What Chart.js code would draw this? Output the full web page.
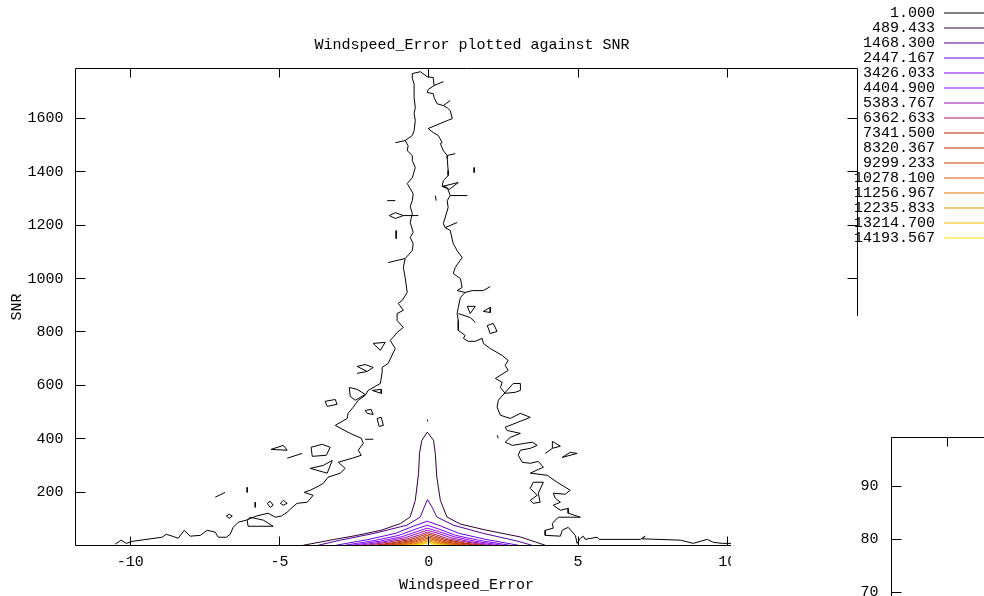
<!DOCTYPE html>
<html>
<head>
<meta charset="utf-8">
<title>Windspeed_Error plotted against SNR</title>
<script src="https://cdn.jsdelivr.net/npm/chart.js@4.4.1/dist/chart.umd.min.js"></script>
<style>
  html, body { margin: 0; padding: 0; background: #ffffff; }
  #page { position: relative; width: 984px; height: 596px; overflow: hidden; }
  #mainChart { position: absolute; left: 0; top: 0; }
  #insetChart { position: absolute; left: 731px; top: 316px; background: #ffffff; }
</style>
</head>
<body>
<div id="page">
  <canvas id="mainChart" width="984" height="596"></canvas>
  <canvas id="insetChart" width="253" height="280"></canvas>
</div>
<script>
// axes
const xTicks = [-10, -5, 0, 5, 10];
const yTicks = [200, 400, 600, 800, 1000, 1200, 1400, 1600];
const xRange = [-11.83, 14.36];
const yRange = [0, 1787];

// contour levels shown in the key
const levels = [1.000, 489.433, 1468.300, 2447.167, 3426.033, 4404.900, 5383.767, 6362.633,
  7341.500, 8320.367, 9299.233, 10278.100, 11256.967, 12235.833, 13214.700, 14193.567];
const levelColors = ['rgb(0,0,0)', 'rgb(46,0,53)', 'rgb(81,0,150)', 'rgb(104,1,221)', 'rgb(123,3,254)',
  'rgb(140,7,243)', 'rgb(154,13,189)', 'rgb(168,21,104)', 'rgb(180,32,0)', 'rgb(192,46,0)',
  'rgb(203,65,0)', 'rgb(213,87,0)', 'rgb(223,115,0)', 'rgb(233,148,0)', 'rgb(242,186,0)', 'rgb(251,230,0)'];

// level 1.000 : outer edge, left side (bottom -> top)
const level1Left = [[-10.50,5],[-10.30,20],[-10.13,8],[-9.90,16],[-8.93,31],[-8.79,42],[-8.59,35],[-8.39,27],
  [-8.19,57],[-7.99,35],[-7.65,38],[-7.42,57],[-7.15,50],[-7.05,31],[-6.78,31],[-6.65,42],[-6.55,68],[-6.38,87],
  [-6.11,95],[-5.78,110],[-5.38,121],[-5.14,106],[-4.94,110],[-4.74,125],[-4.61,139],[-4.41,158],[-4.07,162],
  [-3.87,188],[-4.17,199],[-3.97,207],[-3.70,222],[-3.53,233],[-3.37,256],[-2.96,271],[-2.80,289],[-3.03,312],
  [-2.56,327],[-2.26,338],[-2.36,357],[-2.19,383],[-2.26,402],[-2.63,420],[-3.13,450],[-2.73,476],[-2.70,495],
  [-2.53,518],[-2.36,544],[-2.13,562],[-2.03,581],[-1.62,607],[-1.56,649],[-1.56,667],[-1.36,682],[-1.12,738],
  [-1.29,768],[-1.19,780],[-1.06,798],[-0.85,817],[-1.06,843],[-1.06,869],[-0.85,881],[-1.02,907],[-0.89,918],
  [-0.72,948],[-0.79,1004],[-0.85,1042],[-0.79,1075],[-0.55,1105],[-0.52,1131],[-0.62,1154],[-0.52,1173],
  [-0.62,1210],[-0.55,1244],[-0.62,1270],[-0.55,1292],[-0.52,1318],[-0.62,1337],[-0.72,1356],[-0.55,1378],
  [-0.45,1416],[-0.55,1442],[-0.55,1461],[-0.72,1479],[-0.69,1498],[-0.79,1517],[-0.55,1536],[-0.49,1554],
  [-0.45,1592],[-0.49,1618],[-0.45,1640],[-0.49,1678],[-0.49,1730],[-0.55,1749],[-0.55,1768],[-0.28,1775],
  [-0.05,1756],[0.15,1753]];

// level 1.000 : outer edge, right side (top -> bottom)
const level1Right = [[0.15,1753],[0.18,1723],[-0.02,1708],[-0.05,1697],[0.15,1693],[0.18,1678],[0.28,1655],
  [0.49,1648],[0.62,1640],[0.72,1629],[0.79,1599],[0.62,1592],[-0.02,1562],[0.15,1547],[0.32,1536],[0.45,1509],
  [0.39,1506],[0.49,1479],[0.62,1461],[0.62,1450],[0.65,1405],[0.65,1386],[0.49,1367],[0.45,1348],[0.62,1341],
  [0.72,1311],[0.62,1292],[0.65,1266],[0.49,1206],[0.55,1191],[0.72,1180],[0.82,1131],[0.95,1105],[1.12,1079],
  [0.89,1042],[0.82,1019],[1.06,1000],[1.12,967],[0.95,955],[1.22,948],[1.06,929],[0.99,892],[0.95,869],
  [0.99,843],[0.99,806],[1.22,787],[1.16,776],[1.32,765],[1.56,765],[1.79,776],[1.83,757],[2.06,738],[2.46,712],
  [2.66,693],[2.56,675],[2.66,656],[2.29,630],[2.23,626],[2.46,611],[2.40,592],[2.56,570],[2.90,574],[3.07,581],
  [3.07,607],[2.83,607],[2.33,544],[2.29,518],[2.40,488],[2.73,476],[3.07,495],[3.40,480],[2.56,443],[2.63,431],
  [3.07,420],[2.73,405],[2.56,387],[2.80,375],[3.23,383],[3.47,387],[3.63,375],[3.40,364],[3.07,357],[3.00,338],
  [3.13,312],[3.40,308],[3.67,315],[3.84,293],[3.67,285],[3.40,271],[3.97,263],[4.30,237],[4.74,207],[4.57,192],
  [4.17,196],[4.24,177],[4.41,162],[4.17,151],[4.41,132],[4.67,139],[4.67,121],[5.08,106],[4.74,106],[4.34,106],
  [4.14,83],[4.17,65],[3.90,57],[3.90,38],[4.41,35],[4.47,57],[4.67,68],[4.91,38],[4.97,8],[5.08,27],[5.18,35],
  [5.24,23],[5.64,31],[5.71,23],[7.09,23],[7.25,35],[7.15,25],[8.43,20],[8.86,8],[9.33,23],[9.53,12],[9.83,8],
  [10.27,8]];

// level 1.000 : small islands and stubs
const level1Bits = [
  [[0.18,1723],[0.49,1738]],
  [[0.49,1648],[0.72,1667]],
  [[0.62,1461],[0.89,1468]],
  [[0.45,1345],[0.99,1360],[0.69,1334],[0.45,1345]],
  [[0.72,1311],[1.29,1311]],
  [[0.55,1191],[0.95,1210]],
  [[1.22,948],[1.46,955],[1.83,955],[2.06,970]],
  [[-0.79,1517],[-1.12,1509]],
  [[-1.39,1292],[-1.12,1292]],
  [[-1.32,1236],[-1.12,1247],[-0.85,1236],[-1.12,1225],[-1.32,1236]],
  [[-0.85,1236],[-0.35,1236]],
  [[-1.09,1180],[-1.09,1150]],
  [[-0.79,1075],[-1.36,1060]],
  [[-1.86,757],[-1.46,761],[-1.62,731],[-1.86,757]],
  [[-2.40,671],[-2.13,678],[-1.86,667],[-2.06,652],[-2.40,671]],
  [[-2.06,652],[-2.40,645]],
  [[-2.66,592],[-2.40,585],[-2.13,566],[-2.46,544],[-2.63,559],[-2.66,592]],
  [[-1.89,581],[-1.59,585],[-1.59,570],[-1.89,581]],
  [[-3.47,540],[-3.13,547],[-3.07,529],[-3.40,521],[-3.47,540]],
  [[-2.13,506],[-1.93,510],[-1.86,491],[-2.06,495],[-2.13,506]],
  [[-1.73,476],[-1.59,480],[-1.52,450],[-1.66,446],[-1.73,476]],
  [[-2.13,398],[-1.86,398]],
  [[-3.94,368],[-3.57,379],[-3.30,368],[-3.43,338],[-3.90,334],[-3.94,368]],
  [[-5.28,360],[-4.87,375],[-4.74,357],[-5.28,360]],
  [[-4.74,327],[-4.24,345]],
  [[-3.97,289],[-3.53,300],[-3.23,319],[-3.40,271],[-3.97,289]],
  [[-5.31,166],[-5.21,151],[-5.31,143],[-5.41,158],[-5.31,166]],
  [[-4.87,169],[-4.74,158],[-4.87,151],[-4.97,158],[-4.87,169]],
  [[-5.81,162],[-5.81,143]],
  [[-6.08,218],[-6.08,199]],
  [[-7.15,181],[-6.82,199]],
  [[-6.78,110],[-6.68,117],[-6.58,110],[-6.68,102],[-6.78,110]],
  [[-6.08,95],[-6.05,72],[-5.21,72],[-5.54,95],[-5.98,106],[-6.08,95]],
  [[3.50,237],[3.84,237],[3.67,196],[3.73,162],[3.50,158],[3.40,169],[3.63,188],[3.40,214],[3.50,237]],
  [[4.14,390],[4.41,372],[4.14,364],[4.14,390]],
  [[4.14,364],[3.90,345]],
  [[4.47,330],[4.74,349],[4.97,345],[4.47,330]],
  [[2.29,413],[2.33,402]],
  [[1.29,896],[1.56,896],[1.39,869],[1.29,896]],
  [[1.83,877],[2.06,892],[2.06,873],[1.83,877]],
  [[0.99,869],[1.39,854],[1.56,836]],
  [[1.96,824],[2.16,832],[2.29,802],[2.06,794],[1.96,824]],
  [[1.52,1416],[1.52,1397]],
  [[0.22,1311],[0.25,1292]]
];

// inner levels, each a peak over x ~ 0
const level489 = [[-4.2,1],[-3.2,22],[-2.4,38],[-1.6,57],[-0.95,82],[-0.62,107],[-0.45,169],[-0.34,270],
  [-0.31,345],[-0.23,394],[-0.05,425],[0.16,394],[0.22,345],[0.27,257],[0.39,169],[0.61,107],[1.06,80],
  [1.95,57],[3.07,32],[3.9,1]];
const level489Dot = [[-0.04,465],[-0.04,472]];
const level1468 = [[-3.7,1],[-2.96,20],[-1.85,45],[-0.73,76],[-0.28,107],[-0.15,144],[-0.04,172],[0.11,144],
  [0.27,107],[0.83,76],[1.84,45],[2.95,17],[3.45,1]];
const level2447 = [[-3.1,1],[-2.0,23],[-1.1,46],[-0.5,73],[-0.05,91],[0.4,73],[1.0,46],[1.9,23],[3.0,1]];
const level3426 = [[-2.8,1],[-1.8,19],[-1.0,38],[-0.45,61],[-0.05,76],[0.35,61],[0.9,38],[1.7,19],[2.7,1]];
const level4404 = [[-2.55,1],[-1.65,16],[-0.9,33],[-0.4,52],[-0.05,65],[0.33,52],[0.85,33],[1.55,16],[2.45,1]];
const level5383 = [[-2.3,1],[-1.5,14],[-0.8,29],[-0.35,46],[-0.05,57],[0.3,46],[0.75,29],[1.4,14],[2.2,1]];
const level6362 = [[-2.05,1],[-1.33,13],[-0.72,25],[-0.3,40],[-0.05,50],[0.25,40],[0.65,25],[1.25,13],[1.95,1]];
const level7341 = [[-1.8,1],[-1.17,11],[-0.63,22],[-0.27,35],[-0.05,44],[0.22,35],[0.58,22],[1.1,11],[1.75,1]];
const level8320 = [[-1.6,1],[-1.04,10],[-0.56,19],[-0.24,30],[-0.05,38],[0.2,30],[0.52,19],[0.98,10],[1.55,1]];
const level9299 = [[-1.42,1],[-0.92,8],[-0.5,16],[-0.21,26],[-0.05,32],[0.17,26],[0.45,16],[0.87,8],[1.38,1]];
const level10278 = [[-1.25,1],[-0.81,7],[-0.44,14],[-0.19,22],[-0.05,27],[0.15,22],[0.4,14],[0.76,7],[1.2,1]];
const level11256 = [[-1.08,1],[-0.7,6],[-0.38,11],[-0.16,18],[-0.05,22],[0.13,18],[0.35,11],[0.66,6],[1.05,1]];
const level12235 = [[-0.92,1],[-0.6,5],[-0.32,9],[-0.14,14],[-0.05,17],[0.11,14],[0.3,9],[0.57,5],[0.9,1]];
const level13214 = [[-0.75,1],[-0.49,4],[-0.26,7],[-0.12,10],[-0.05,13],[0.09,10],[0.24,7],[0.46,4],[0.72,1]];
const level14193 = [[-0.55,1],[-0.36,3],[-0.19,5],[-0.09,7],[-0.05,9],[0.06,7],[0.17,5],[0.33,3],[0.5,1]];

// second (partly hidden) panel bottom right
const insetYTicks = [70, 80, 90];
const insetXTicks = [0.6];
const insetYRange = [69.34, 99.25];

// paths for each level, same order as levels[]
const levelPaths = [
  [level1Left, level1Right, ...level1Bits],
  [level489, level489Dot],
  [level1468], [level2447], [level3426], [level4404], [level5383], [level6362],
  [level7341], [level8320], [level9299], [level10278], [level11256], [level12235],
  [level13214], [level14193]
];

const FONT = '"Liberation Mono", "DejaVu Sans Mono", monospace';
Chart.defaults.font.family = FONT;
Chart.defaults.font.size = 15;
Chart.defaults.color = '#000';

const datasets = [];
levelPaths.forEach((paths, i) => {
  paths.forEach(p => {
    datasets.push({
      label: levels[i].toFixed(3),
      data: p.map(pt => ({ x: pt[0], y: pt[1] })),
      showLine: true,
      borderColor: levelColors[i],
      borderWidth: 1,
      pointRadius: 0,
      pointHoverRadius: 0,
      fill: false,
      tension: 0
    });
  });
});

// border + inward ticks like gnuplot
const frameMain = {
  id: 'frameMain',
  afterDatasetsDraw(chart) {
    const { ctx, chartArea: a } = chart;
    const xs = chart.scales.x, ys = chart.scales.y;
    ctx.save();
    ctx.strokeStyle = '#000';
    ctx.lineWidth = 1;
    ctx.beginPath();
    ctx.moveTo(a.left, a.bottom);
    ctx.lineTo(a.left, a.top);
    ctx.lineTo(a.right, a.top);
    ctx.lineTo(a.right, a.bottom);
    ctx.lineTo(a.left, a.bottom);
    xTicks.forEach(v => {
      const px = Math.floor(xs.getPixelForValue(v)) + 0.5;
      ctx.moveTo(px, a.bottom); ctx.lineTo(px, a.bottom - 9);
      ctx.moveTo(px, a.top); ctx.lineTo(px, a.top + 9);
    });
    yTicks.forEach(v => {
      const py = Math.floor(ys.getPixelForValue(v)) + 0.5;
      ctx.moveTo(a.left, py); ctx.lineTo(a.left + 10, py);
      ctx.moveTo(a.right, py); ctx.lineTo(a.right - 10, py);
    });
    ctx.stroke();
    ctx.restore();
  }
};

// key in the top right corner: label then line sample
const contourKey = {
  id: 'contourKey',
  afterDraw(chart) {
    const ctx = chart.ctx;
    ctx.save();
    ctx.font = '15px ' + FONT;
    ctx.textAlign = 'right';
    ctx.textBaseline = 'middle';
    levels.forEach((lv, i) => {
      const y = 13 + i * 15;
      ctx.fillStyle = '#000';
      ctx.fillText(lv.toFixed(3), 935, y);
      ctx.strokeStyle = levelColors[i];
      ctx.lineWidth = 1;
      ctx.beginPath();
      ctx.moveTo(944, y);
      ctx.lineTo(984, y);
      ctx.stroke();
    });
    ctx.restore();
  }
};

new Chart(document.getElementById('mainChart'), {
  type: 'scatter',
  data: { datasets: datasets },
  options: {
    responsive: false,
    animation: false,
    devicePixelRatio: 1,
    events: [],
    layout: { padding: { left: 0, top: 0, right: 40, bottom: 0 } },
    plugins: {
      legend: { display: false },
      tooltip: { enabled: false },
      title: {
        display: true,
        text: 'Windspeed_Error plotted against SNR',
        color: '#000',
        font: { size: 15, weight: 'normal' },
        padding: { top: 36, bottom: 14.5 }
      }
    },
    scales: {
      x: {
        type: 'linear',
        position: 'bottom',
        min: xRange[0],
        max: xRange[1],
        grid: { display: false, drawTicks: false },
        border: { display: false },
        ticks: { padding: 8, autoSkip: false, maxRotation: 0, callback: v => String(v) },
        afterBuildTicks: s => { s.ticks = xTicks.map(v => ({ value: v })); },
        afterFit: s => { s.height = 50.5; s.paddingLeft = 0; s.paddingRight = 0; },
        title: { display: true, text: 'Windspeed_Error', font: { size: 15, weight: 'normal' }, padding: { top: 0, bottom: 2 } }
      },
      y: {
        type: 'linear',
        position: 'left',
        min: yRange[0],
        max: yRange[1],
        grid: { display: false, drawTicks: false },
        border: { display: false },
        ticks: { padding: 12, autoSkip: false, callback: v => String(v) },
        afterBuildTicks: s => { s.ticks = yTicks.map(v => ({ value: v })); },
        afterFit: s => { s.width = 75.5; s.paddingTop = 0; s.paddingBottom = 0; },
        title: { display: true, text: 'SNR', font: { size: 15, weight: 'normal' }, padding: { top: 8, bottom: 0 } }
      },
      y2: {
        type: 'linear',
        position: 'right',
        min: 0,
        max: 1,
        grid: { display: false, drawTicks: false },
        border: { display: false },
        ticks: { display: false },
        afterFit: s => { s.width = 86.5; s.paddingTop = 0; s.paddingBottom = 0; }
      }
    }
  },
  plugins: [frameMain, contourKey]
});

// second panel, only its top-left corner is on the page
const frameInset = {
  id: 'frameInset',
  afterDatasetsDraw(chart) {
    const { ctx, chartArea: a } = chart;
    const xs = chart.scales.x, ys = chart.scales.y;
    ctx.save();
    ctx.strokeStyle = '#000';
    ctx.lineWidth = 1;
    ctx.beginPath();
    ctx.moveTo(a.left, a.bottom + 2);
    ctx.lineTo(a.left, a.top);
    ctx.lineTo(a.right + 2, a.top);
    insetYTicks.forEach(v => {
      const py = Math.floor(ys.getPixelForValue(v)) + 0.5;
      ctx.moveTo(a.left, py); ctx.lineTo(a.left + 10, py);
    });
    insetXTicks.forEach(v => {
      const px = Math.floor(xs.getPixelForValue(v)) + 0.5;
      ctx.moveTo(px, a.top); ctx.lineTo(px, a.top + 9);
    });
    ctx.stroke();
    ctx.restore();
  }
};

new Chart(document.getElementById('insetChart'), {
  type: 'scatter',
  data: { datasets: [{ data: [], pointRadius: 0 }] },
  options: {
    responsive: false,
    animation: false,
    devicePixelRatio: 1,
    events: [],
    layout: { padding: { left: 0, top: 121.5, right: 0, bottom: 0 } },
    plugins: { legend: { display: false }, tooltip: { enabled: false } },
    scales: {
      x: {
        type: 'linear',
        min: 0,
        max: 1,
        grid: { display: false, drawTicks: false },
        border: { display: false },
        ticks: { display: false },
        afterFit: s => { s.height = 0; s.paddingLeft = 0; s.paddingRight = 0; }
      },
      y: {
        type: 'linear',
        min: insetYRange[0],
        max: insetYRange[1],
        grid: { display: false, drawTicks: false },
        border: { display: false },
        ticks: { padding: 13, autoSkip: false, callback: v => String(v) },
        afterBuildTicks: s => { s.ticks = insetYTicks.map(v => ({ value: v })); },
        afterFit: s => { s.width = 160.5; s.paddingTop = 0; s.paddingBottom = 0; }
      }
    }
  },
  plugins: [frameInset]
});
</script>
</body>
</html>
